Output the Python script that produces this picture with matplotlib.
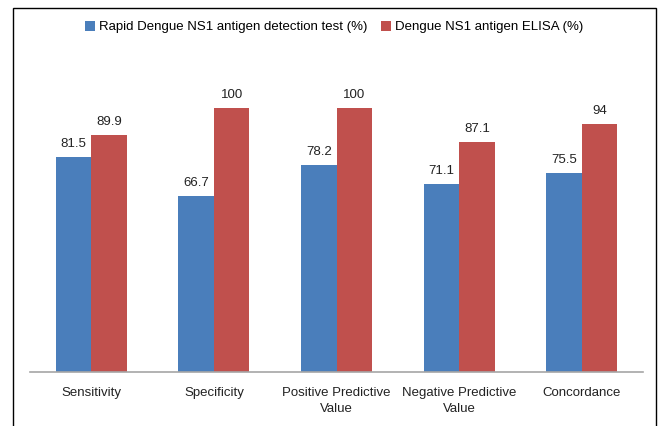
import numpy as np
import matplotlib.pyplot as plt
from matplotlib.patches import Rectangle

plt.rcParams['font.family'] = ['Liberation Sans', 'DejaVu Sans']

# Datos del grafico
categorias = ['Sensitivity', 'Specificity', 'Positive Predictive\nValue',
              'Negative Predictive\nValue', 'Concordance']
prueba_rapida = [81.5, 66.7, 78.2, 71.1, 75.5]
elisa = [89.9, 100, 100, 87.1, 94]
etiquetas_rapida = ['81.5', '66.7', '78.2', '71.1', '75.5']
etiquetas_elisa = ['89.9', '100', '100', '87.1', '94']

azul = '#4a7ebb'
rojo = '#c0504d'
ancho = 0.29

fig = plt.figure(figsize=(6.59, 4.26), dpi=100)
ax = fig.add_axes([30 / 659, 1 - 372 / 426, 613 / 659, 317 / 426])

x = np.arange(len(categorias))
b1 = ax.bar(x - ancho / 2, prueba_rapida, ancho, color=azul,
            label='Rapid Dengue NS1 antigen detection test (%)')
b2 = ax.bar(x + ancho / 2, elisa, ancho, color=rojo,
            label='Dengue NS1 antigen ELISA (%)')

ax.bar_label(b1, labels=etiquetas_rapida, padding=5, fontsize=9.5, color='#222222')
ax.bar_label(b2, labels=etiquetas_elisa, padding=5, fontsize=9.5, color='#222222')

ax.set_xlim(-0.5, len(categorias) - 0.5)
ax.set_ylim(0, 120)
ax.set_yticks([])
ax.set_xticks(x)
ax.set_xticklabels(categorias, fontsize=9.5, color='#222222', linespacing=1.45)
ax.tick_params(axis='x', length=0, pad=11)
for lado in ['top', 'right', 'left']:
    ax.spines[lado].set_visible(False)
ax.spines['bottom'].set_color('#a6a6a6')
ax.spines['bottom'].set_linewidth(1.2)

fig.legend(loc='center', bbox_to_anchor=(334 / 659, 1 - 27 / 426), ncol=2,
           frameon=False, fontsize=9.5, handlelength=0.8, handleheight=0.8,
           handletextpad=0.3, columnspacing=1.0)

# Marco alrededor de la figura
marco = Rectangle((13 / 659, -0.05), (656 - 13) / 659, 1.05 - 8 / 426,
                  transform=fig.transFigure, fill=False, edgecolor='black',
                  linewidth=1.0)
fig.patches.append(marco)

fig.savefig('out.png', dpi=100)
